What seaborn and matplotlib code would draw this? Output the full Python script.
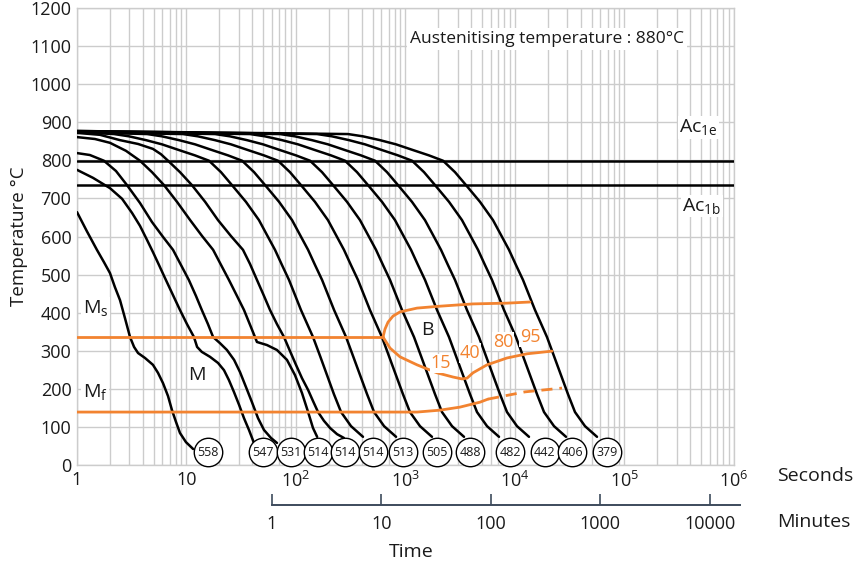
import matplotlib
matplotlib.use("Agg")
import matplotlib.pyplot as plt
from matplotlib.ticker import FixedLocator, NullLocator, NullFormatter, LogLocator
import pandas as pd
import seaborn as sns

# --- cooling curves: time (s) / temperature (degC), named by final hardness (HV)
t_558 = [1, 1.23, 1.52, 1.76, 2.0, 2.22, 2.47, 2.74, 3.05, 3.32, 3.61, 4.18, 4.94, 5.49,
         6.10, 6.78, 7.37, 8.02, 8.72, 9.89, 11.5]
T_558 = [664, 614, 565, 533, 504, 467, 433, 386, 336, 310, 294, 281, 263, 242,
         215, 181, 144, 113, 84, 60, 42]
t_547 = [1, 1.40, 2.0, 2.58, 3.18, 3.76, 4.36, 4.94, 5.61, 6.36, 7.53, 8.72, 10.1, 11.7,
         12.5, 13.8, 16.4, 19.4, 22.0, 24.4, 27.1, 30.2, 33.5, 37.2, 41.3]
T_547 = [775, 754, 727, 699, 662, 628, 591, 559, 525, 491, 446, 407, 370, 336,
         310, 297, 284, 268, 249, 223, 192, 158, 123, 92, 58]
t_531 = [1, 1.31, 1.76, 2.27, 2.86, 3.76, 4.84, 6.10, 7.53, 8.91, 10.5, 12.2, 13.8, 15.7,
         17.5, 20.2, 23.4, 27.2, 30.8, 34.9, 39.6, 45.0, 51.0, 59.1, 67.0]
T_531 = [819, 814, 799, 772, 735, 688, 638, 599, 565, 525, 486, 444, 407, 370,
         336, 320, 302, 276, 244, 205, 165, 123, 92, 71, 58]
t_514a = [1, 1.46, 2.0, 2.80, 3.76, 4.84, 6.23, 8.19, 10.8, 13.9, 17.5, 20.7, 24.4, 28.9,
          33.5, 38.8, 44.0, 54.3, 67.0, 82.7, 97.9, 113.4, 129, 143, 156]
T_514a = [861, 856, 846, 825, 799, 769, 735, 691, 643, 601, 565, 525, 486, 444,
          407, 362, 323, 315, 302, 276, 236, 189, 139, 97, 74]
t_514b = [1, 1.62, 2.47, 3.61, 4.94, 5.85, 6.78, 8.72, 11.2, 14.8, 19.4, 25.5, 32.8, 38.0,
          44.0, 51.0, 57.9, 67.0, 77.7, 88.2, 100, 113.4, 129, 143, 159, 180, 205, 237, 274]
T_514b = [872, 867, 853, 843, 830, 816, 799, 769, 735, 691, 643, 601, 565, 528,
          486, 444, 407, 370, 336, 299, 263, 228, 197, 168, 139, 116, 97, 81, 71]

# the later curves share one shape; temperatures read at the same levels
T_late = [869, 863, 853, 842, 827, 813, 799, 769, 735, 691, 643, 604, 565, 525,
          486, 407, 336, 286, 236, 186, 139, 102, 74]
t_514c = [1, 2.18, 2.99, 4.27, 5.97, 8.53, 11.95, 16.05, 20.65, 26.0, 34.9, 45.9, 54.3,
          64.3, 74.5, 86.3, 111, 143, 166, 192, 222, 258, 318, 409]
T_514c = [874] + T_late
t_513 = [1, 4.37, 5.98, 8.55, 11.97, 17.1, 23.96, 32.18, 41.4, 52.18, 70.05, 92.05, 108.9,
         128.9, 149.3, 173, 222.7, 286.5, 332, 384.6, 445.6, 516.4, 637.3, 820.2]
T_513 = [874] + T_late
t_505 = [1, 9.29, 12.73, 18.19, 25.46, 36.38, 50.97, 68.45, 88.06, 111.0, 149.0, 195.8,
         231.7, 274.2, 317.6, 368, 473.6, 609.4, 706.2, 818.1, 948.0, 1098, 1356, 1745]
T_505 = [874] + T_late
t_488 = [1, 18.22, 24.97, 35.69, 49.95, 71.38, 100.0, 134.3, 172.8, 217.8, 292.3, 384.2,
         454.6, 537.9, 623.2, 722, 929.2, 1196, 1386, 1605, 1860, 2155, 2660, 3423]
T_488 = [875] + T_late
t_482 = [1, 38.02, 52.13, 74.49, 104.3, 149.0, 208.7, 280.3, 360.6, 454.5, 610.2, 801.9,
         949.0, 1123, 1301, 1507, 1940, 2496, 2892, 3350, 3882, 4498, 5552, 7145]
T_482 = [875] + T_late
t_442 = [1, 71.43, 97.92, 139.9, 195.8, 279.9, 392.1, 526.6, 677.5, 853.8, 1146, 1506,
         1783, 2109, 2443, 2831, 3643, 4688, 5433, 6293, 7293, 8451, 10430, 13420]
T_442 = [876] + T_late
t_406 = [1, 155.6, 213.3, 304.8, 426.6, 609.6, 854.0, 1147, 1476, 1860, 2497, 3281,
         3883, 4594, 5322, 6166, 7936, 10210, 11830, 13710, 15880, 18410, 22720, 29230]
T_406 = [877] + T_late
t_379 = [1, 298.5, 409.2, 584.8, 818.4, 1170, 1638, 2200, 2831, 3568, 4790, 6295,
         7449, 8813, 10210, 11830, 15230, 19590, 22700, 26300, 30470, 35310, 43580, 56090]
T_379 = [877] + T_late

# hardness circles at the end of each curve
hardness = [558, 547, 531, 514, 514, 514, 513, 505, 488, 482, 442, 406, 379]
hv_time = [15.7, 50.0, 90.0, 159, 280, 505, 948, 1940, 3880, 9000, 18790, 33170, 69200]
hv_temp = [34] * len(hardness)

# transformation lines
ac1e_temp = 798
ac1b_temp = 735
ms_time = [1, 623]
ms_temp = [336, 336]
bs_upper_time = [623, 650, 692, 769, 891, 1274, 2066, 4130, 8450, 13710]
bs_upper_temp = [336, 357, 375, 391, 402, 412, 417, 423, 425, 428]
bs_lower_time = [623, 722, 891, 1274, 1940, 2716, 3279, 3648, 4130, 5550, 8450, 12880, 21780]
bs_lower_temp = [336, 307, 284, 263, 242, 231, 226, 228, 242, 263, 281, 292, 299]
mf_time = [1, 1274, 2066, 3147, 4791, 5670]
mf_temp = [139, 139, 144, 152, 165, 173]
mf_dash_time = [5670, 12340, 26870]
mf_dash_temp = [173, 192, 202]

# percentage transformed labels
pct_labels = ["15", "40", "80", "95"]
pct_time = [2110, 3882, 7770, 13710]
pct_temp = [267, 294, 324, 335]

curves = [
    (t_558, T_558), (t_547, T_547), (t_531, T_531), (t_514a, T_514a),
    (t_514b, T_514b), (t_514c, T_514c), (t_513, T_513), (t_505, T_505),
    (t_488, T_488), (t_482, T_482), (t_442, T_442), (t_406, T_406), (t_379, T_379),
]
frames = []
for i, (tt, TT) in enumerate(curves):
    frames.append(pd.DataFrame({"time": tt, "temp": TT, "curve": i}))
cooling = pd.concat(frames, ignore_index=True)

sns.set_theme(style="white")
plt.rcParams["font.family"] = ["Open Sans", "DejaVu Sans"]
plt.rcParams["mathtext.default"] = "regular"

ORANGE = "#F28330"
GRID = "#cccccc"
TXT = "#1a1a1a"

fig = plt.figure(figsize=(8.54, 5.64), dpi=100)
ax = fig.add_axes([77 / 854, 1 - 465 / 564, (734 - 77) / 854, (465 - 8) / 564])
ax.set_xscale("log")

sns.lineplot(data=cooling, x="time", y="temp", units="curve", estimator=None,
             sort=False, color="black", lw=1.8, ax=ax, zorder=3)

ax.axhline(ac1e_temp, color="black", lw=1.8, zorder=3)
ax.axhline(ac1b_temp, color="black", lw=1.8, zorder=3)

for xs, ys in [(ms_time, ms_temp), (bs_upper_time, bs_upper_temp),
               (bs_lower_time, bs_lower_temp), (mf_time, mf_temp)]:
    sns.lineplot(x=xs, y=ys, sort=False, color=ORANGE, lw=2.0, ax=ax, zorder=4)
sns.lineplot(x=mf_dash_time, y=mf_dash_temp, sort=False, color=ORANGE, lw=2.0,
             ax=ax, zorder=4, linestyle=(0, (4, 2.5)))

sns.scatterplot(x=hv_time, y=hv_temp, s=420, marker="o", color="white",
                edgecolor="black", linewidth=1.0, ax=ax, zorder=6, clip_on=False)
for hv, tt, TT in zip(hardness, hv_time, hv_temp):
    ax.text(tt, TT, str(hv), ha="center", va="center", fontsize=9, color=TXT, zorder=7)

for lab, tt, TT in zip(pct_labels, pct_time, pct_temp):
    ax.text(tt, TT, lab, ha="center", va="center", fontsize=13, color=ORANGE, zorder=5,
            bbox=dict(fc="white", ec="none", pad=0.5))

box = dict(fc="white", ec="none", pad=1.0)
ax.text(1.13, 399, "M$_\\mathregular{s}$", fontsize=14, color=TXT, va="baseline", bbox=box)
ax.text(1.13, 179, "M$_\\mathregular{f}$", fontsize=14, color=TXT, va="baseline", bbox=box)
ax.text(12.5, 236, "M", fontsize=14, color=TXT, ha="center", va="center")
ax.text(1571, 355, "B", fontsize=14, color=TXT, ha="center", va="center")
ax.text(3.15e5, 874, "Ac$_\\mathregular{1e}$", fontsize=14, color=TXT, va="baseline", bbox=box)
ax.text(3.35e5, 667, "Ac$_\\mathregular{1b}$", fontsize=14, color=TXT, va="baseline", bbox=box)
ax.text(1099, 1108, "Austenitising temperature : 880°C", fontsize=12.5,
        color=TXT, va="baseline", bbox=dict(fc="white", ec="none", pad=2))

ax.set_xlim(1, 1e6)
ax.set_ylim(0, 1200)
ax.set_yticks(range(0, 1201, 100))
ax.xaxis.set_major_locator(FixedLocator([1, 10, 1e2, 1e3, 1e4, 1e5, 1e6]))
ax.set_xticklabels(["1", "10", "10$^2$", "10$^3$", "10$^4$", "10$^5$", "10$^6$"])
ax.xaxis.set_minor_locator(LogLocator(base=10, subs=range(2, 10), numticks=20))
ax.xaxis.set_minor_formatter(NullFormatter())
ax.grid(which="both", axis="x", color=GRID, lw=1.0, zorder=0)
ax.grid(which="major", axis="y", color=GRID, lw=1.0, zorder=0)
ax.set_axisbelow(True)
ax.tick_params(which="both", length=0, labelsize=13, colors=TXT, pad=4)
for sp in ax.spines.values():
    sp.set_color(GRID)
    sp.set_linewidth(1.0)
ax.set_xlabel("")
ax.set_ylabel("Temperature °C", fontsize=13.5, color=TXT, labelpad=2)

# minutes scale under the seconds axis
secax = ax.secondary_xaxis(-0.0875, functions=(lambda s: s / 60.0, lambda m: m * 60.0))
secax.xaxis.set_major_locator(FixedLocator([1, 10, 100, 1000, 10000]))
secax.set_xticklabels(["1", "10", "100", "1000", "10000"])
secax.xaxis.set_minor_locator(NullLocator())
secax.tick_params(direction="in", length=8, width=1.2, color="#3d4b5c",
                  labelsize=13, labelcolor=TXT, pad=7)
secax.spines["bottom"].set_color("#3d4b5c")
secax.spines["bottom"].set_linewidth(1.4)
secax.spines["bottom"].set_bounds(1, 18900)

fig.text(777 / 854, 1 - 476 / 564, "Seconds", fontsize=14, color=TXT, va="center")
fig.text(777 / 854, 1 - 522 / 564, "Minutes", fontsize=14, color=TXT, va="center")
fig.text(411 / 854, 1 - 552 / 564, "Time", fontsize=14, color=TXT, va="center", ha="center")

fig.savefig("out.png", dpi=100)
